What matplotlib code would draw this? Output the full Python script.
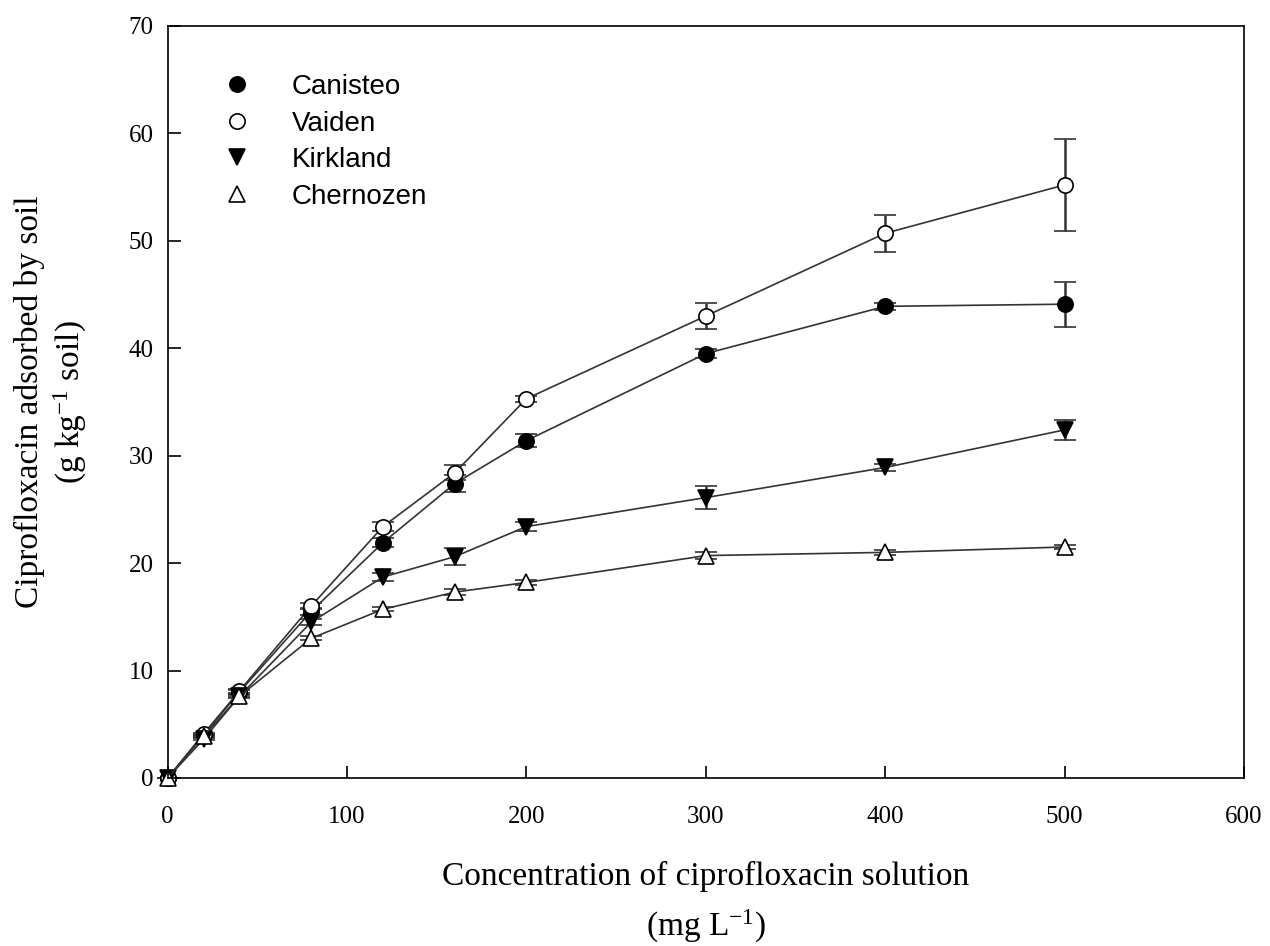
import matplotlib
matplotlib.use('Agg')
import matplotlib.pyplot as plt
from matplotlib.lines import Line2D

plt.rcParams['font.family'] = ['Liberation Serif', 'DejaVu Serif']
plt.rcParams['mathtext.fontset'] = 'custom'
plt.rcParams['mathtext.rm'] = 'Liberation Serif'
plt.rcParams['mathtext.default'] = 'regular'

conc = [0, 20, 40, 80, 120, 160, 200, 300, 400, 500]

canisteo = [0, 4.0, 8.0, 15.5, 21.9, 27.4, 31.4, 39.5, 43.9, 44.1]
canisteo_err = [0, 0.1, 0.2, 0.3, 0.4, 0.8, 0.6, 0.4, 0.3, 2.1]

vaiden = [0, 4.1, 8.1, 16.0, 23.4, 28.4, 35.3, 43.0, 50.7, 55.2]
vaiden_err = [0, 0.1, 0.2, 0.3, 0.4, 0.7, 0.3, 1.2, 1.7, 4.3]

kirkland = [0, 3.6, 7.6, 14.5, 18.7, 20.6, 23.4, 26.1, 28.9, 32.4]
kirkland_err = [0, 0.1, 0.2, 0.3, 0.4, 0.8, 0.4, 1.1, 0.3, 0.9]

chernozen = [0, 3.9, 7.6, 13.0, 15.7, 17.3, 18.2, 20.7, 21.0, 21.5]
chernozen_err = [0, 0.1, 0.1, 0.2, 0.2, 0.3, 0.2, 0.3, 0.2, 0.2]

fig = plt.figure(figsize=(12.7, 9.46), dpi=100)
ax = fig.add_axes([0.132, 0.1776, 0.8475, 0.795])

line_col = '#333333'
series = [
    ('Canisteo', canisteo, canisteo_err, 'o', 'black'),
    ('Vaiden', vaiden, vaiden_err, 'o', 'white'),
    ('Kirkland', kirkland, kirkland_err, 'v', 'black'),
    ('Chernozen', chernozen, chernozen_err, '^', 'white'),
]
handles = []
for name, vals, err, mk, fc in series:
    c = ax.errorbar(conc, vals, yerr=err, color=line_col, lw=1.2, elinewidth=1.8,
                    capsize=8, capthick=1.8, marker=mk, markersize=11,
                    markerfacecolor=fc, markeredgecolor='black', markeredgewidth=1.2)
    data_line, caps, bars = c.lines
    data_line.set_clip_on(False)
    for art in list(caps) + list(bars):
        art.set_clip_on(False)
    handles.append(Line2D([], [], ls='none', marker=mk, markersize=11,
                          markerfacecolor=fc, markeredgecolor='black',
                          markeredgewidth=1.2, label=name))

ax.set_xlim(0, 600)
ax.set_ylim(0, 70)
ax.set_xticks(range(0, 601, 100))
ax.set_yticks(range(0, 71, 10))
ax.tick_params(direction='in', length=9, width=1.2, labelsize=18)
ax.tick_params(axis='x', pad=20)
ax.tick_params(axis='y', pad=10)
for s in ax.spines.values():
    s.set_linewidth(1.2)

ax.set_xlabel('Concentration of ciprofloxacin solution\n(mg L$^{-1}$)', fontsize=24,
              linespacing=1.55, va='center')
ax.xaxis.set_label_coords(0.5, -0.166)
ax.set_ylabel('Ciprofloxacin adsorbed by soil\n(g kg$^{-1}$ soil)', fontsize=24,
              linespacing=1.25, va='center')
ax.yaxis.set_label_coords(-0.108, 0.5)

ax.legend(handles=handles, loc='upper left', bbox_to_anchor=(0.052, 0.936),
          frameon=False, prop={'family': 'Liberation Sans', 'size': 20},
          handlelength=1.0, handletextpad=1.45, labelspacing=0.38,
          borderpad=0, borderaxespad=0)

fig.savefig('out.png', dpi=100)
